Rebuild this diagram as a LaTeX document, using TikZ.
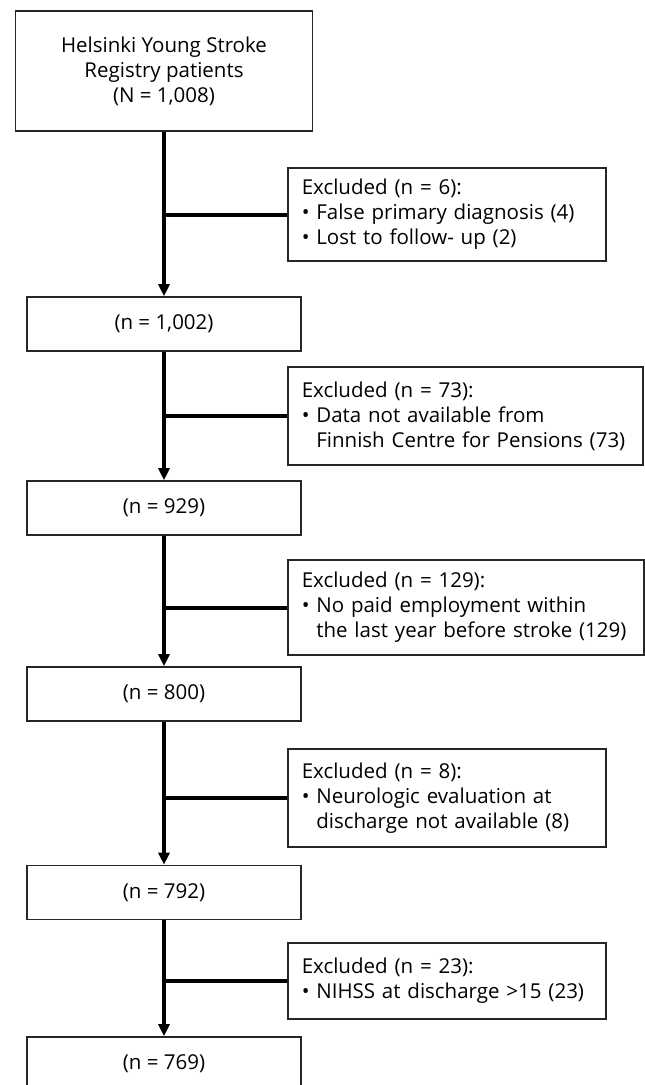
\documentclass[tikz,border=0pt]{standalone}
\usepackage{fontspec}
\setmainfont{Open Sans}
\usetikzlibrary{arrows.meta, positioning}

\begin{document}
\begin{tikzpicture}[x=1pt, y=-1pt,
    every node/.style={font=\fontsize{20.5}{25}\selectfont},
    countbox/.style={draw=black!85, line width=1.6pt, minimum width=274pt, minimum height=54pt, align=center, inner sep=0pt},
    exclbox/.style={draw=black!85, line width=1.6pt, anchor=west, align=left, inner xsep=14pt, inner ysep=0pt},
    flow/.style={line width=4pt, -{Triangle[length=12pt,width=11pt]}},
    branch/.style={line width=4pt}]
		\useasboundingbox (0,0) rectangle (645,1085);
		\clip (0,0) rectangle (645,1085);

		% Patient counts
		\node[countbox, minimum width=297pt, minimum height=120pt] (N1008) at (164,71) {Helsinki Young Stroke\\Registry patients\\(N = 1,008)};
		\node[countbox] (n1002) at (164,324) {(n = 1,002)};
		\node[countbox] (n929) at (164,508) {(n = 929)};
		\node[countbox] (n800) at (164,694) {(n = 800)};
		\node[countbox] (n792) at (164,892.5) {(n = 792)};
		\node[countbox] (n769) at (164,1064) {(n = 769)};

		% Exclusions
		\node[exclbox, text width=290pt, minimum height=93pt] (Ex6) at (287,214.5) {Excluded (n = 6):\\• False primary diagnosis (4)\\• Lost to follow- up (2)};
		\node[exclbox, text width=327pt, minimum height=98pt] (Ex73) at (287,416) {Excluded (n = 73):\\• Data not available from\\\phantom{• }Finnish Centre for Pensions (73)};
		\node[exclbox, text width=328pt, minimum height=95pt] (Ex129) at (287,607.5) {Excluded (n = 129):\\• No paid employment within\\\phantom{• }the last year before stroke (129)};
		\node[exclbox, text width=290pt, minimum height=98pt] (Ex8) at (287,798) {Excluded (n = 8):\\• Neurologic evaluation at\\\phantom{• }discharge not available (8)};
		\node[exclbox, text width=290pt, minimum height=76pt] (Ex23) at (287,981) {Excluded (n = 23):\\• NIHSS at discharge >15 (23)};

		% Flow
		\draw[flow] (N1008) -- (n1002);
		\draw[flow] (n1002) -- (n929);
		\draw[flow] (n929) -- (n800);
		\draw[flow] (n800) -- (n792);
		\draw[flow] (n792) -- (n769);

		\draw[branch] (Ex6.west) -- (Ex6.west -| N1008.south);
		\draw[branch] (Ex73.west) -- (Ex73.west -| n1002.south);
		\draw[branch] (Ex129.west) -- (Ex129.west -| n929.south);
		\draw[branch] (Ex8.west) -- (Ex8.west -| n800.south);
		\draw[branch] (Ex23.west) -- (Ex23.west -| n792.south);
\end{tikzpicture}
\end{document}
